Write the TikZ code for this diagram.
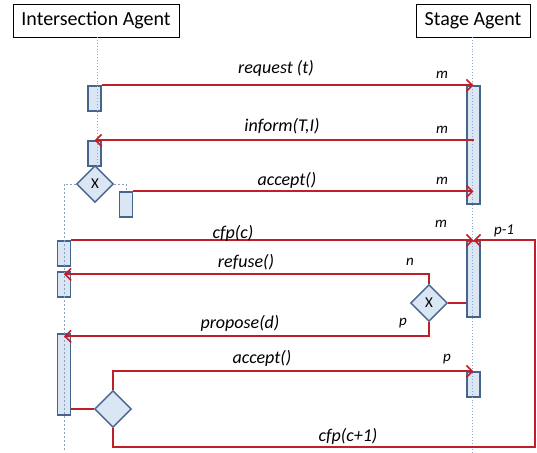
\documentclass[tikz,border=0pt]{standalone}
\usepackage{fontspec}
\setmainfont{Carlito}
\usetikzlibrary{arrows.meta,shapes.geometric}
\definecolor{msgred}{RGB}{192,30,40}
\definecolor{actfill}{RGB}{218,230,244}
\definecolor{actdraw}{RGB}{70,100,140}
\definecolor{lifecol}{RGB}{140,170,205}
\tikzset{
  head/.style={draw=black,line width=0.9pt,fill=white,inner sep=0pt,font=\fontsize{20}{22}\selectfont},
  actbox/.style={draw=actdraw,fill=actfill,line width=1.2pt,inner sep=0pt,minimum width=13pt},
  choice/.style={diamond,draw=actdraw,fill=actfill,line width=1.4pt,inner sep=0pt,minimum width=37pt,minimum height=37pt,font=\fontsize{15}{17}\selectfont},
  lifeline/.style={draw=lifecol,line width=0.9pt,dotted},
  branchline/.style={draw=lifecol!80!gray,line width=0.9pt,dashed,dash pattern=on 2pt off 2pt},
  msg/.style={draw=msgred,line width=2pt},
  msgarrow/.style={msg,-{Straight Barb[length=6pt,width=12pt,line width=1.6pt]}},
  lab/.style={font=\fontsize{18}{20}\selectfont\itshape,inner sep=0pt},
  small/.style={font=\fontsize{15}{17}\selectfont\itshape,inner sep=0pt}
}
\begin{document}
\begin{tikzpicture}[x=1pt,y=-1pt]
\useasboundingbox (0,0) rectangle (537,452);
% headers
\node[head,minimum width=166pt,minimum height=33pt] (ia) at (96,20.5) {Intersection Agent};
\node[head,minimum width=114pt,minimum height=33pt] (sa) at (473,20.5) {Stage Agent};
% coordinates for lifelines
\coordinate (iaTop) at (97,37);
\coordinate (iaEnd) at (97,184);
\coordinate (saTop) at (472,37);
\coordinate (saEnd) at (472,452);
\coordinate (leftEnd) at (64,452);
\coordinate (loopR) at (535,447);
% activation boxes
\node[actbox,minimum height=25pt] (b1) at (94.5,98.5) {};
\node[actbox,minimum height=25pt] (b2) at (94.5,153.5) {};
\node[actbox,minimum height=25pt] (b3) at (126,204.5) {};
\node[actbox,minimum height=25pt] (b4) at (64,253.5) {};
\node[actbox,minimum height=25pt] (b5) at (64,284.5) {};
\node[actbox,minimum height=81pt] (b6) at (64,374.5) {};
\node[actbox,minimum height=118pt] (sb1) at (473.5,145) {};
\node[actbox,minimum height=76pt] (sb2) at (473.5,279) {};
\node[actbox,minimum height=25pt] (sb3) at (473.5,384.5) {};
% lifelines
\draw[lifeline] (iaTop) -- (iaEnd);
\draw[lifeline] (saTop) -- (saEnd);
% decision diamonds
\node[choice] (d1) at (95,184) {X};
\node[choice] (d2) at (429,303) {X};
\node[choice] (d3) at (113,409) {};
% branch lines from d1
\draw[branchline] (d1.west) -| (leftEnd);
\draw[branchline] (d1.east) -| (b3.north);
% messages
\draw[msgarrow] (b1.north east) -- (sb1.north);
\draw[msgarrow] (b2.north -| sb1.center) -- (b2.north);
\draw[msgarrow] (b3.north east) -- (b3.north east -| sb1.center);
\draw[msgarrow] (b4.north east) -- (sb2.north);
\draw[msgarrow] (d2.north) |- ([yshift=-3pt]b5.north);
\draw[msg] (d2.east) -- (d2.east -| sb2.west);
\draw[msgarrow] (d2.south) |- ([yshift=-3pt]b6.north);
\draw[msg] (d3.west -| b6.east) -- (d3.west);
\draw[msgarrow] (d3.north) |- (sb3.north);
\draw[msgarrow] (d3.south) |- (loopR) |- (sb2.north);
% labels
\node[lab] (lreq) at (276,68) {request (t)};
\node[lab] (linf) at (282,126) {inform(T,I)};
\node[lab] (lacc1) at (287,180) {accept()};
\node[lab] (lcfp) at (233,233) {cfp(c)};
\node[lab] (lref) at (246,262) {refuse()};
\node[lab] (lpro) at (240,323) {propose(d)};
\node[lab] (lacc2) at (262,358) {accept()};
\node[lab] (lcfp2) at (348,436) {cfp(c+1)};
\node[small] (m1) at (442,75) {m};
\node[small] (m2) at (442,130) {m};
\node[small] (m3) at (442,181) {m};
\node[small] (m4) at (441,224) {m};
\node[small] (pm1) at (504,231) {p-1};
\node[small] (n1) at (410,262) {n};
\node[small] (p1) at (403,323) {p};
\node[small] (p2) at (447,359) {p};
\end{tikzpicture}
\end{document}
